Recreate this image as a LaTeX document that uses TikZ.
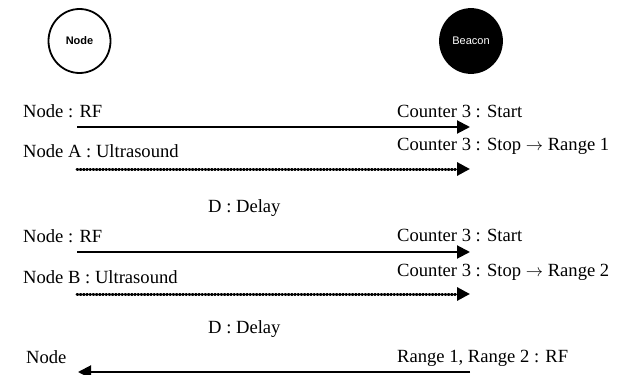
\documentclass[tikz,border=0pt]{standalone}
\usepackage{fontspec}
\setmainfont{Liberation Serif}
\setsansfont{Liberation Sans}
\usetikzlibrary{arrows.meta,shapes.geometric}
\begin{document}
\begin{tikzpicture}[x=1pt,y=-1pt,
  actor/.style={ellipse,draw=black,line width=1.8pt,minimum width=62pt,minimum height=64pt,inner sep=0pt,font=\sffamily\fontsize{11}{13}\selectfont},
  lbl/.style={inner sep=0pt,font=\fontsize{18.6}{21}\selectfont},
  sig/.style={line width=2pt,-{Triangle[length=13pt,width=13pt]}},
  usig/.style={line width=3pt,line cap=round,dash pattern=on 0.9pt off 2.3pt,-{Triangle[length=13pt,width=13pt]}}]
\useasboundingbox (0,0) rectangle (627,375);
% actors
\node[actor,fill=white] (node) at (79.5,41) {\bfseries Node};
\node[actor,fill=black,text=white] (beacon) at (471,41) {Beacon};
% block A
\node[lbl,anchor=base west] (l1) at (23,117) {Node : RF};
\node[lbl,anchor=base west] (r1) at (397,117) {Counter 3 : Start};
\coordinate (a1s) at (77,127);
\coordinate (a1e) at (470,127);
\draw[sig] (a1s) -- (a1e);
\node[lbl,anchor=base west] (l2) at (23,157) {Node A : Ultrasound};
\node[lbl,anchor=base west] (r2) at (397,150) {Counter 3 : Stop $\rightarrow$ Range 1};
\coordinate (a2s) at (77,169);
\coordinate (a2e) at (470,169);
\draw[usig] (a2s) -- (a2e);
\node[lbl,anchor=base west] (d1) at (208,212) {D : Delay};
% block B
\node[lbl,anchor=base west] (l3) at (23,242) {Node : RF};
\node[lbl,anchor=base west] (r3) at (397,241) {Counter 3 : Start};
\coordinate (a3s) at (77,252);
\coordinate (a3e) at (470,252);
\draw[sig] (a3s) -- (a3e);
\node[lbl,anchor=base west] (l4) at (23,283) {Node B : Ultrasound};
\node[lbl,anchor=base west] (r4) at (397,276) {Counter 3 : Stop $\rightarrow$ Range 2};
\coordinate (a4s) at (77,294);
\coordinate (a4e) at (470,294);
\draw[usig] (a4s) -- (a4e);
\node[lbl,anchor=base west] (d2) at (208,333) {D : Delay};
% report
\node[lbl,anchor=base west] (l5) at (26,363) {Node};
\node[lbl,anchor=base west] (r5) at (397,362) {Range 1, Range 2 : RF};
\coordinate (a5s) at (470,372);
\coordinate (a5e) at (78,372);
\draw[sig] (a5s) -- (a5e);
\end{tikzpicture}
\end{document}
